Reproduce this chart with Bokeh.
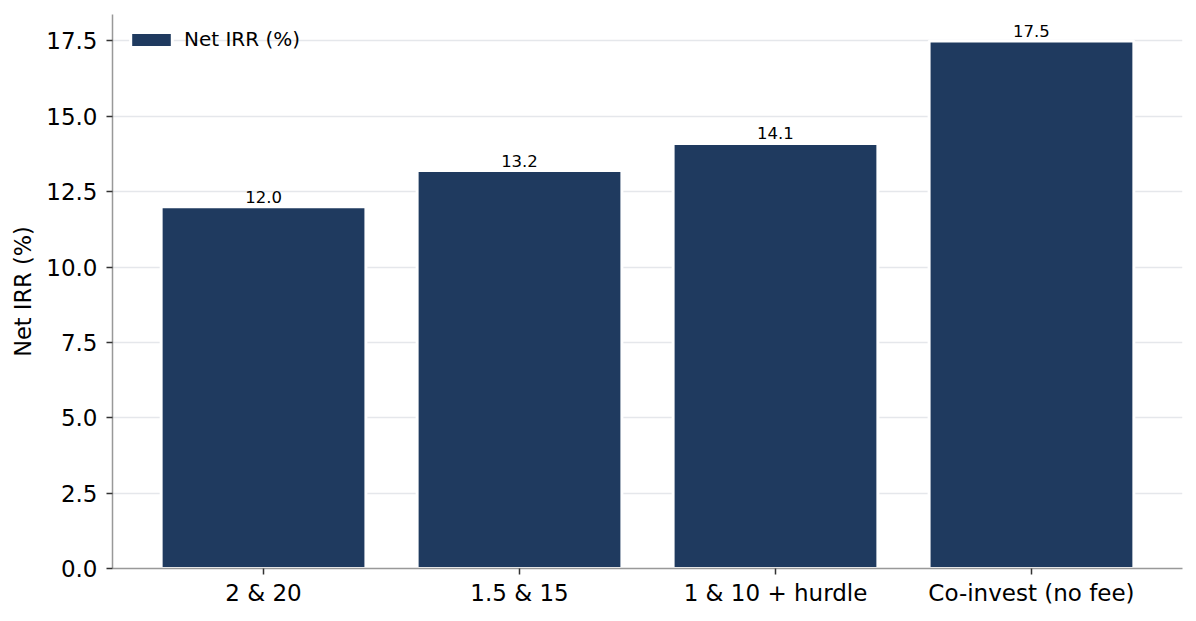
from bokeh.plotting import figure
from bokeh.models import (ColumnDataSource, FixedTicker, PrintfTickFormatter, LabelSet,
                          Legend, LegendItem, Range1d)
from bokeh.core.properties import value
from bokeh.embed import file_html
from bokeh.resources import INLINE

# fee structures and resulting net IRR
structures = ["2 & 20", "1.5 & 15", "1 & 10 + hurdle", "Co-invest (no fee)"]
net_irr = [12.0, 13.2, 14.1, 17.5]
y_ticks = [0, 2.5, 5, 7.5, 10, 12.5, 15, 17.5]

BAR = "#1f3a5f"
FONT = "DejaVu Sans"

positions = list(range(len(structures)))
source = ColumnDataSource(data=dict(
    x=positions,
    irr=net_irr,
    label=[f"{v:.1f}" for v in net_irr],
))

p = figure(width=1196, height=621, output_backend="svg", toolbar_location=None,
           x_range=Range1d(-0.59, len(structures) - 1 + 0.59),
           y_range=Range1d(0, max(net_irr) * 1.05),
           min_border_left=112, min_border_right=14, min_border_top=14, min_border_bottom=53)
p.outline_line_color = None
p.background_fill_color = "white"

bars = p.vbar(x="x", top="irr", width=0.8, source=source,
              fill_color=BAR, line_color="white", line_width=3)

labels = LabelSet(x="x", y="irr", text="label", source=source, text_align="center",
                  text_baseline="bottom", y_offset=4, text_font=value(FONT),
                  text_font_size="16.5px", text_color="black")
p.add_layout(labels)

# axes
p.xaxis.ticker = FixedTicker(ticks=positions)
p.xaxis.major_label_overrides = {i: s for i, s in enumerate(structures)}
p.yaxis.ticker = FixedTicker(ticks=y_ticks)
p.yaxis.formatter = PrintfTickFormatter(format="%.1f")
p.yaxis.axis_label = "Net IRR (%)"

for ax in (p.xaxis, p.yaxis):
    ax.axis_line_color = "#999999"
    ax.axis_line_width = 1.5
    ax.major_tick_line_color = "#333333"
    ax.major_tick_line_width = 1.5
    ax.major_tick_out = 6
    ax.major_tick_in = 0
    ax.minor_tick_line_color = None
    ax.major_label_text_font = FONT
    ax.major_label_text_font_size = "23px"
    ax.major_label_text_color = "black"
    ax.axis_label_text_font = FONT
    ax.axis_label_text_font_size = "22.5px"
    ax.axis_label_text_font_style = "normal"
    ax.axis_label_text_color = "black"

p.xaxis.major_label_standoff = 5
p.yaxis.major_label_standoff = 9
p.yaxis.axis_label_standoff = 7

p.xgrid.grid_line_color = None
p.ygrid.ticker = FixedTicker(ticks=y_ticks)
p.ygrid.grid_line_color = "#e5e7eb"
p.ygrid.grid_line_width = 1.5

legend = Legend(items=[LegendItem(label="Net IRR (%)", renderers=[bars])],
                location="top_left", margin=13, padding=14,
                glyph_width=52, glyph_height=19, label_standoff=7,
                label_text_font=FONT, label_text_font_size="20px", label_text_color="black",
                border_line_color=None, background_fill_alpha=0)
p.add_layout(legend)

open("out.html", "w").write(file_html(p, INLINE))
